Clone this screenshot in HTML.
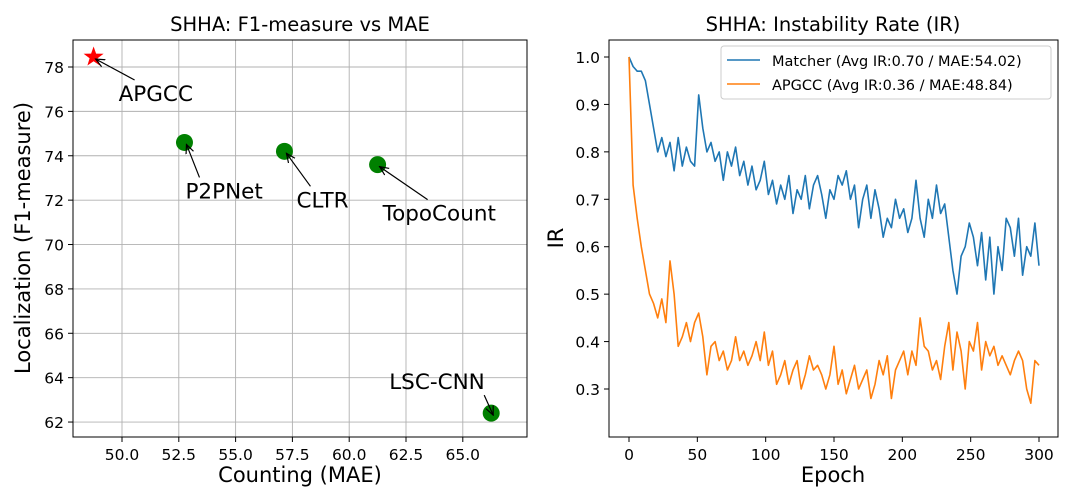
<!DOCTYPE html>
<html><head><meta charset="utf-8"><style>
body{margin:0;background:#fff;width:1080px;height:499px;overflow:hidden}
svg{font-family:"DejaVu Sans","Liberation Sans",sans-serif}
</style></head><body>
<svg id="c" width="1080" height="499" xmlns="http://www.w3.org/2000/svg">
<defs><marker id="ah" markerWidth="10" markerHeight="10" refX="9" refY="5" orient="auto" markerUnits="userSpaceOnUse"><path d="M0,1 L9,5 L0,9" fill="none" stroke="#000" stroke-width="1.2"/></marker></defs>
</svg>
<script>
const methods=["APGCC","P2PNet","CLTR","TopoCount","LSC-CNN"];
const maeVals=[48.75,52.75,57.15,61.25,66.25];
const f1Vals=[78.45,74.6,74.2,73.6,62.4];
const labelDx=[25,1,12,5,-102];
const labelDy=[44,56,56,56,-24];
const xTicksL=[50,52.5,55,57.5,60,62.5,65];
const yTicksL=[62,64,66,68,70,72,74,76,78];
const epochs=[];for(let e=0;e<=300;e+=3)epochs.push(e);
const matcherIR=[1.00,0.98,0.97,0.97,0.95,0.90,0.85,0.80,0.83,0.79,0.82,0.76,0.83,0.77,0.81,0.78,0.77,0.92,0.85,0.80,0.82,0.78,0.80,0.74,0.80,0.77,0.81,0.75,0.78,0.73,0.77,0.72,0.74,0.78,0.71,0.74,0.69,0.73,0.70,0.75,0.67,0.72,0.70,0.75,0.68,0.73,0.75,0.71,0.66,0.72,0.70,0.75,0.73,0.76,0.70,0.73,0.64,0.70,0.73,0.66,0.72,0.68,0.62,0.66,0.64,0.70,0.66,0.68,0.63,0.66,0.74,0.66,0.62,0.70,0.66,0.73,0.67,0.69,0.62,0.55,0.50,0.58,0.60,0.65,0.62,0.56,0.63,0.53,0.62,0.50,0.60,0.55,0.66,0.64,0.58,0.66,0.54,0.60,0.58,0.65,0.56];
const apgccIR=[1.00,0.73,0.66,0.60,0.55,0.50,0.48,0.45,0.49,0.44,0.57,0.50,0.39,0.41,0.44,0.40,0.44,0.46,0.41,0.33,0.39,0.40,0.36,0.38,0.34,0.36,0.41,0.36,0.38,0.35,0.37,0.40,0.36,0.42,0.35,0.38,0.31,0.33,0.36,0.31,0.34,0.36,0.30,0.33,0.37,0.34,0.35,0.33,0.30,0.33,0.39,0.31,0.34,0.29,0.32,0.35,0.30,0.32,0.34,0.28,0.31,0.36,0.33,0.37,0.28,0.34,0.36,0.38,0.33,0.38,0.35,0.45,0.39,0.38,0.34,0.36,0.32,0.39,0.44,0.34,0.42,0.38,0.30,0.40,0.38,0.44,0.34,0.40,0.37,0.39,0.35,0.37,0.35,0.33,0.36,0.38,0.36,0.30,0.27,0.36,0.35];
const xTicksR=[0,50,100,150,200,250,300];
const yTicksR=[0.3,0.4,0.5,0.6,0.7,0.8,0.9,1.0];

const svg=document.getElementById('c');const NS='http://www.w3.org/2000/svg';
function mk(t,a,p,txt){const e=document.createElementNS(NS,t);for(const k in a)e.setAttribute(k,a[k]);if(txt!==undefined)e.textContent=txt;(p||svg).appendChild(e);return e;}
const L={x0:73,x1:527,y0:40,y1:437};
const lx=v=>122+(v-50)*22.72;
const ly=v=>67+(78-v)*22.19;
const gL=mk('g',{});
xTicksL.forEach(t=>{const x=lx(t);mk('line',{x1:x,x2:x,y1:L.y0,y2:L.y1,stroke:'#b0b0b0','stroke-width':0.9},gL);mk('line',{x1:x,x2:x,y1:L.y1,y2:L.y1+5,stroke:'#000'},gL);
 const tx=mk('text',{x:x,y:L.y1+23,'font-size':15.5,'text-anchor':'middle'},gL,t.toFixed(1));});
yTicksL.forEach(t=>{const y=ly(t);mk('line',{x1:L.x0,x2:L.x1,y1:y,y2:y,stroke:'#b0b0b0','stroke-width':0.9},gL);mk('line',{x1:L.x0-5,x2:L.x0,y1:y,y2:y,stroke:'#000'},gL);
 const tx=mk('text',{x:L.x0-9,y:y+6,'font-size':15.5,'text-anchor':'end'},gL,t);});
mk('rect',{x:L.x0,y:L.y0,width:L.x1-L.x0,height:L.y1-L.y0,fill:'none',stroke:'#000','stroke-width':1},gL);
methods.forEach((m,i)=>{const px=lx(maeVals[i]),py=ly(f1Vals[i]);let mark;
 if(i===0){let d='';for(let k=0;k<10;k++){const r=k%2?4.2:10.5,a=-Math.PI/2+k*Math.PI/5;d+=(k?'L':'M')+(px+r*Math.cos(a)).toFixed(1)+','+(py+r*Math.sin(a)).toFixed(1);}mark=mk('path',{d:d+'Z',fill:'#ff0000'},gL);}
 else mark=mk('circle',{cx:px,cy:py,r:8.5,fill:'#008000'},gL);
 
 const tx=px+labelDx[i],ty=py+labelDy[i];
 const txt=mk('text',{x:tx,y:ty,'font-size':21.5},gL,m);
 const ax=i===4?tx+95:tx+(i===0?16:(i===3?45:14)),ay=i===4?ty+6:ty-21;
 const ar=mk('line',{x1:ax,y1:ay,x2:px+2,y2:py+2,stroke:'#000','stroke-width':1.2,'marker-end':'url(#ah)'},gL);});
let t;t=mk('text',{x:300,y:31,'font-size':19.5,'text-anchor':'middle'},gL,'SHHA: F1-measure vs MAE');
t=mk('text',{x:300,y:482,'font-size':21,'text-anchor':'middle'},gL,'Counting (MAE)');
t=mk('text',{x:0,y:0,'font-size':21,'text-anchor':'middle',transform:'translate(30,238) rotate(-90)'},gL,'Localization (F1-measure)');
const R={x0:609,x1:1058,y0:40,y1:437};
const rx=v=>629+v*1.3667;
const ry=v=>57+(1.0-v)*474.3;
const gR=mk('g',{});
xTicksR.forEach(v=>{const x=rx(v);mk('line',{x1:x,x2:x,y1:R.y1,y2:R.y1+5,stroke:'#000'},gR);const tx=mk('text',{x:x,y:R.y1+23,'font-size':15.5,'text-anchor':'middle'},gR,v);});
yTicksR.forEach(v=>{const y=ry(v);mk('line',{x1:R.x0-5,x2:R.x0,y1:y,y2:y,stroke:'#000'},gR);const tx=mk('text',{x:R.x0-9,y:y+6,'font-size':15.5,'text-anchor':'end'},gR,v.toFixed(1));});
function line(vals,color,name){const d=vals.map((v,i)=>(i?'L':'M')+rx(epochs[i]).toFixed(1)+','+ry(v).toFixed(1)).join('');const p=mk('path',{d:d,fill:'none',stroke:color,'stroke-width':1.6,'stroke-linejoin':'round'},gR);}
line(matcherIR,'#1f77b4','matcher-line');line(apgccIR,'#ff7f0e','apgcc-line');
mk('rect',{x:R.x0,y:R.y0,width:R.x1-R.x0,height:R.y1-R.y0,fill:'none',stroke:'#000','stroke-width':1},gR);
const lg=mk('g',{},gR);
mk('rect',{x:721,y:46,width:330,height:53,rx:3,fill:'#fff','fill-opacity':0.8,stroke:'#ccc'},lg);
mk('line',{x1:727,x2:760,y1:60,y2:60,stroke:'#1f77b4','stroke-width':1.6},lg);
mk('line',{x1:727,x2:760,y1:84,y2:84,stroke:'#ff7f0e','stroke-width':1.6},lg);
t=mk('text',{x:772,y:66,'font-size':14.5},lg,'Matcher (Avg IR:0.70 / MAE:54.02)');
t=mk('text',{x:772,y:90,'font-size':14.5},lg,'APGCC (Avg IR:0.36 / MAE:48.84)');
t=mk('text',{x:833,y:31,'font-size':19.5,'text-anchor':'middle'},gR,'SHHA: Instability Rate (IR)');
t=mk('text',{x:833,y:482,'font-size':21,'text-anchor':'middle'},gR,'Epoch');
t=mk('text',{x:0,y:0,'font-size':21,'text-anchor':'middle',transform:'translate(563,238) rotate(-90)'},gR,'IR');
</script>
</body></html>
